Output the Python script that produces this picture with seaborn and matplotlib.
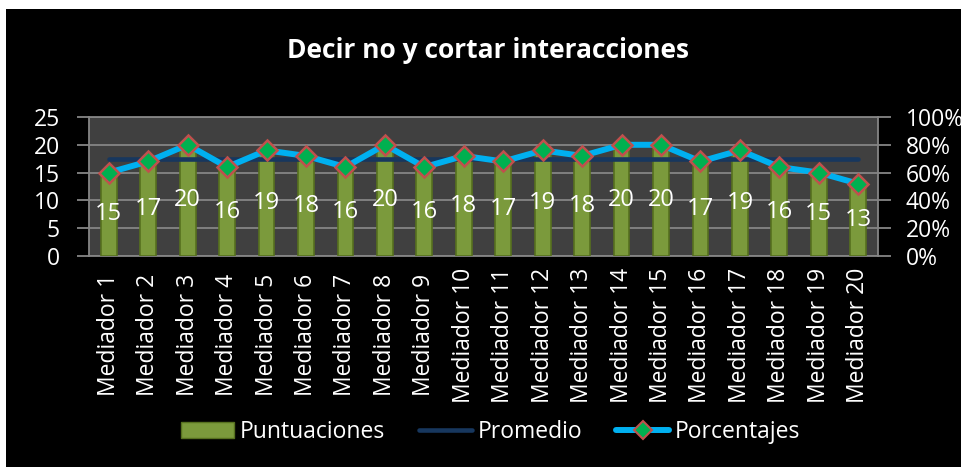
import numpy as np
import pandas as pd
import seaborn as sns
import matplotlib.pyplot as plt
from matplotlib.patches import Patch, Rectangle
from matplotlib.lines import Line2D
from matplotlib.ticker import FuncFormatter, MultipleLocator

# datos
mediadores = ['Mediador %d' % i for i in range(1, 21)]
puntuaciones = [15, 17, 20, 16, 19, 18, 16, 20, 16, 18, 17, 19, 18, 20, 20, 17, 19, 16, 15, 13]
promedio = [17.45] * 20
porcentajes = [0.60, 0.68, 0.80, 0.64, 0.76, 0.72, 0.64, 0.80, 0.64, 0.72,
               0.68, 0.76, 0.72, 0.80, 0.80, 0.68, 0.76, 0.64, 0.60, 0.52]

df = pd.DataFrame({'Mediador': mediadores, 'Puntuaciones': puntuaciones,
                   'Promedio': promedio, 'Porcentajes': porcentajes})
df['pos'] = np.arange(len(df))

sns.set_style('dark')
plt.rcParams['font.family'] = ['Open Sans', 'DejaVu Sans']

fs = 16.5
fig = plt.figure(figsize=(9.62, 4.67), dpi=100)
fig.patch.set_facecolor('white')
# fondo negro del area del grafico
fig.patches.append(Rectangle((6 / 962, 0), 1, 1 - 9 / 467, transform=fig.transFigure,
                             facecolor='black', edgecolor='none', zorder=-10))

ax = fig.add_axes([89 / 962, 1 - 256 / 467, (878 - 89) / 962, (256 - 117) / 467])
ax.set_facecolor('#404040')

grid_c = '#858585'
sns.barplot(data=df, x='Mediador', y='Puntuaciones', color='#7b9a3c', width=0.40,
            edgecolor='#56701f', linewidth=1.2, saturation=1, ax=ax, zorder=3)
sns.lineplot(data=df, x='pos', y='Promedio', color='#17375e', linewidth=3.3, ax=ax,
             zorder=4, solid_capstyle='round')

ax.set_ylim(0, 25)
ax.set_xlim(-0.5, len(df) - 0.5)
ax.yaxis.set_major_locator(MultipleLocator(5))
ax.grid(axis='y', color=grid_c, linewidth=1.3, zorder=1)
ax.grid(axis='x', visible=False)
ax.set_axisbelow(True)
ax.set_xlabel('')
ax.set_ylabel('')

# etiquetas dentro de las barras
for p, v in zip(df['pos'], df['Puntuaciones']):
    ax.text(p, v / 2, str(v), ha='center', va='center', color='white', fontsize=17, zorder=5)

ax.set_xticks(df['pos'])
ax.set_xticklabels(mediadores, rotation=90)
for lbl in ax.get_xticklabels():
    lbl.set_va('center')
ax.set_xticks(np.arange(-0.5, len(df)), minor=True)
ax.tick_params(axis='x', which='major', length=0, pad=57, labelsize=fs, labelcolor='white')
ax.tick_params(axis='x', which='minor', length=6, width=1.3, color=grid_c, direction='out')
ax.tick_params(axis='y', length=9, width=1.3, color=grid_c, labelsize=fs, labelcolor='white',
               direction='out', pad=12, left=True)
for s in ax.spines.values():
    s.set_visible(True)
    s.set_color(grid_c)
    s.set_linewidth(1.3)

ax2 = ax.twinx()
sns.lineplot(data=df, x='pos', y='Porcentajes', color='#00b0f0', linewidth=4.3, ax=ax2,
             marker='D', markersize=10, markerfacecolor='#00b050',
             markeredgecolor='#c0504d', markeredgewidth=1.8, zorder=6)
ax2.set_ylim(0, 1)
ax2.yaxis.set_major_locator(MultipleLocator(0.2))
ax2.yaxis.set_major_formatter(FuncFormatter(lambda v, _: '%d%%' % round(v * 100)))
ax2.tick_params(axis='y', length=9, width=1.3, color=grid_c, labelsize=fs, labelcolor='white',
                direction='out', pad=11, right=True)
ax2.set_ylabel('')
ax2.set_xlabel('')
ax2.grid(False)
for s in ax2.spines.values():
    s.set_visible(False)

fig.text(0.507, 1 - 50 / 467, 'Decir no y cortar interacciones', ha='center', va='center',
         color='white', fontsize=19, fontweight='bold')

handles = [
    Patch(facecolor='#7b9a3c', edgecolor='#56701f'),
    Line2D([], [], color='#17375e', linewidth=3.3),
    Line2D([], [], color='#00b0f0', linewidth=4.3, marker='D', markersize=9,
           markerfacecolor='#00b050', markeredgecolor='#c0504d', markeredgewidth=1.5),
]
leg = fig.legend(handles, ['Puntuaciones', 'Promedio', 'Porcentajes'], loc='center',
                 bbox_to_anchor=(0.51, 1 - 432 / 467), ncol=3, frameon=False, fontsize=fs,
                 labelcolor='white', handlelength=2.3, handleheight=0.7, handletextpad=0.25,
                 columnspacing=1.5)

fig.savefig('out.png', dpi=100, facecolor=fig.get_facecolor())
